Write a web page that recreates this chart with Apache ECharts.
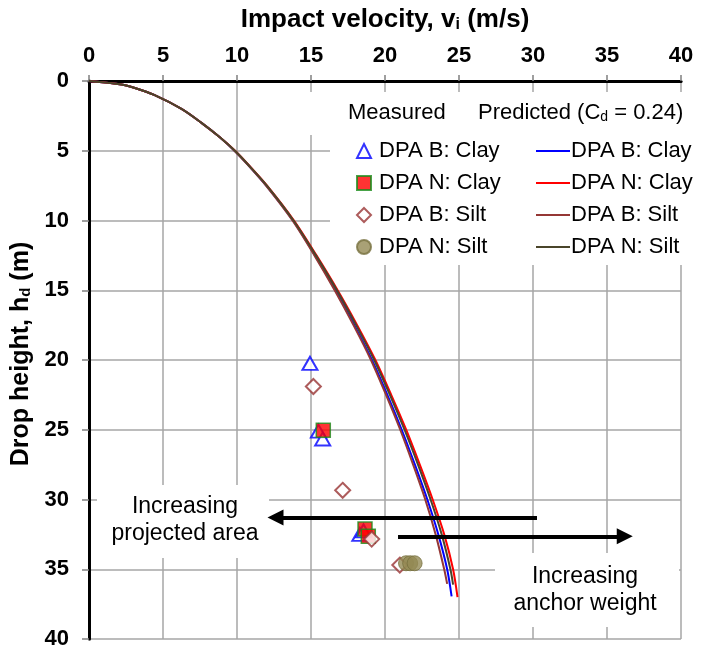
<!DOCTYPE html>
<html>
<head>
<meta charset="utf-8">
<script src="https://cdn.jsdelivr.net/npm/echarts@6/dist/echarts.min.js"></script>
<style>
html, body { margin: 0; padding: 0; background: #fff; }
#chart { width: 701px; height: 650px; }
</style>
</head>
<body>
<div id="chart"></div>
<script>
// axis ticks
const xTicks = [0, 5, 10, 15, 20, 25, 30, 35, 40]
const yTicks = [0, 5, 10, 15, 20, 25, 30, 35, 40]

// measured points: [impact velocity (m/s), drop height (m)]
const bClayPts = [[14.93, 20.24], [15.5, 25.1], [15.79, 25.66], [18.3, 32.5], [18.55, 32.25]]
const nClayPts = [[15.83, 25.04], [18.65, 32.12], [18.87, 32.64]]
const bSiltPts = [[15.16, 21.9], [17.14, 29.34], [19.1, 32.84], [21.0, 34.7]]
const nSiltPts = [[21.42, 34.57], [21.7, 34.57], [22.0, 34.57]]

// predicted curves (Cd = 0.24): drop heights and velocities
const bClayH = [0, 0.25, 0.5, 1, 2, 3, 4, 5, 6, 7.5, 10, 12.5, 15, 17.5, 20, 22.5, 25, 27.5, 30, 32.5, 35, 36.94]
const bClayV = [0, 2.2, 3.1, 4.4, 6.25, 7.6, 8.8, 9.84, 10.74, 11.98, 13.78, 15.27, 16.65, 17.93, 19.12, 20.16, 21.13, 22.02, 22.86, 23.6, 24.2, 24.5]
const nClayH = [0, 0.25, 0.5, 1, 2, 3, 4, 5, 6, 7.5, 10, 12.5, 15, 17.5, 20, 22.5, 25, 27.5, 30, 32.5, 35, 37.0]
const nClayV = [0, 2.2, 3.1, 4.4, 6.25, 7.6, 8.8, 9.87, 10.77, 12.03, 13.85, 15.37, 16.8, 18.12, 19.35, 20.42, 21.43, 22.35, 23.22, 24.0, 24.6, 24.9]
const bSiltH = [0, 0.25, 0.5, 1, 2, 3, 4, 5, 6, 7.5, 10, 12.5, 15, 17.5, 20, 22.5, 25, 27.5, 30, 32.5, 35, 36.05]
const bSiltV = [0, 2.2, 3.1, 4.4, 6.25, 7.6, 8.8, 9.82, 10.72, 11.96, 13.75, 15.23, 16.6, 17.87, 19.05, 20.07, 21.03, 21.9, 22.72, 23.42, 24.0, 24.2]
const nSiltH = [0, 0.25, 0.5, 1, 2, 3, 4, 5, 6, 7.5, 10, 12.5, 15, 17.5, 20, 22.5, 25, 27.5, 30, 32.5, 35, 36.1]
const nSiltV = [0, 2.2, 3.1, 4.4, 6.25, 7.6, 8.8, 9.86, 10.76, 12.02, 13.82, 15.33, 16.75, 18.05, 19.27, 20.33, 21.32, 22.23, 23.08, 23.83, 24.42, 24.6]

// annotation arrows [from, to] in data units
const areaArrow = [[30.27, 31.29], [12.6, 31.29]]
const weightArrow = [[20.88, 32.64], [36.2, 32.64]]

const FONT = '"Liberation Sans", Arial, sans-serif'

const zip = (v, h) => v.map((x, i) => [x, h[i]])

const chart = echarts.init(document.getElementById('chart'))

const lineSeries = (name, v, h, color) => ({
  name: name + ' (pred)',
  type: 'line',
  data: zip(v, h),
  smooth: 0.3,
  showSymbol: false,
  symbol: 'none',
  lineStyle: { color: color, width: 2 },
  itemStyle: { color: color },
  z: 3
})

const subStyle = { fontFamily: FONT, fontSize: 16, fontWeight: 'bold', color: '#000', verticalAlign: 'bottom', padding: [10, 0, 0, 0] }

const option = {
  animation: false,
  textStyle: { fontFamily: FONT },
  grid: { left: 89, right: 20, top: 81, bottom: 9 },
  xAxis: [
    {
      type: 'value', position: 'top', min: 0, max: 40, interval: 5,
      name: 'Impact velocity, v{sub|i} (m/s)',
      nameLocation: 'middle', nameGap: 48,
      nameTextStyle: { fontFamily: FONT, fontSize: 26, fontWeight: 'bold', color: '#000', rich: { sub: subStyle } },
      axisLine: { lineStyle: { color: '#808080', width: 3 } },
      axisTick: { length: 6, lineStyle: { color: '#808080', width: 1.5 } },
      axisLabel: { fontFamily: FONT, fontSize: 22, fontWeight: 'bold', color: '#000', margin: 14,
        formatter: v => xTicks.includes(v) ? String(v) : '' },
      splitLine: { lineStyle: { color: '#a6a6a6', width: 1.5 } }
    },
    {
      type: 'value', position: 'bottom', min: 0, max: 40,
      axisLine: { show: true, lineStyle: { color: '#000', width: 3 } },
      axisTick: { show: false }, axisLabel: { show: false }, splitLine: { show: false }
    }
  ],
  yAxis: [
    {
      type: 'value', inverse: true, min: 0, max: 40, interval: 5,
      name: 'Drop height, h{sub|d} (m)',
      nameLocation: 'middle', nameGap: 52,
      nameTextStyle: { fontFamily: FONT, fontSize: 25, fontWeight: 'bold', color: '#000', padding: [0, 0, 0, 12],
        rich: { sub: { ...subStyle, fontSize: 15 } } },
      axisLine: { lineStyle: { color: '#808080', width: 3 } },
      axisTick: { length: 7, lineStyle: { color: '#808080', width: 1.5 } },
      axisLabel: { fontFamily: FONT, fontSize: 22, fontWeight: 'bold', color: '#000', margin: 20,
        formatter: v => yTicks.includes(v) ? String(v) : '' },
      splitLine: { lineStyle: { color: '#a6a6a6', width: 1.5 } }
    },
    {
      type: 'value', position: 'right', inverse: true, min: 0, max: 40, interval: 5,
      axisLine: { show: true, lineStyle: { color: '#000', width: 3 } },
      axisTick: { show: true, inside: true, length: 5, lineStyle: { color: '#808080', width: 1.5 } },
      axisLabel: { show: false }, splitLine: { show: false }
    }
  ],
  legend: [
    {
      left: 351, top: 135, orient: 'vertical', itemGap: 10,
      itemWidth: 14, itemHeight: 14,
      textStyle: { fontFamily: FONT, fontSize: 22, color: '#000', padding: [0, 0, 0, 3] },
      data: ['DPA B: Clay', 'DPA N: Clay', 'DPA B: Silt', 'DPA N: Silt']
    },
    {
      left: 531, top: 135, orient: 'vertical', itemGap: 10,
      itemWidth: 34, itemHeight: 2, icon: 'rect',
      textStyle: { fontFamily: FONT, fontSize: 22, color: '#000', padding: [0, 0, 0, -4] },
      formatter: n => n.replace(' (pred)', ''),
      data: ['DPA B: Clay (pred)', 'DPA N: Clay (pred)', 'DPA B: Silt (pred)', 'DPA N: Silt (pred)']
    }
  ],
  graphic: [
    // white text boxes covering the grid
    { type: 'rect', z: 1, shape: { x: 305, y: 92, width: 396, height: 43 }, style: { fill: '#fff' } },
    { type: 'rect', z: 1, shape: { x: 330, y: 135, width: 371, height: 130 }, style: { fill: '#fff' } },
    { type: 'rect', z: 1, shape: { x: 97, y: 485, width: 172, height: 73 }, style: { fill: '#fff' } },
    { type: 'rect', z: 1, shape: { x: 495, y: 553, width: 184, height: 74 }, style: { fill: '#fff' } },
    { type: 'text', z: 5, style: { x: 348, y: 113, text: 'Measured', fontFamily: FONT, fontSize: 22, fill: '#000', verticalAlign: 'middle' } },
    { type: 'text', z: 5, style: { x: 478, y: 113, text: 'Predicted (C{sub|d} = 0.24)', fontFamily: FONT, fontSize: 22, fill: '#000', verticalAlign: 'middle',
      rich: { sub: { fontFamily: FONT, fontSize: 14, fill: '#000', verticalAlign: 'bottom', padding: [9, 0, 0, 0] } } } },
    { type: 'text', z: 5, style: { x: 185, y: 520, text: 'Increasing\nprojected area', fontFamily: FONT, fontSize: 23, lineHeight: 27, fill: '#000', align: 'center', verticalAlign: 'middle' } },
    { type: 'text', z: 5, style: { x: 585, y: 590, text: 'Increasing\nanchor weight', fontFamily: FONT, fontSize: 23, lineHeight: 27, fill: '#000', align: 'center', verticalAlign: 'middle' } }
  ],
  series: [
    {
      name: 'DPA B: Clay', type: 'scatter', data: bClayPts, symbol: 'triangle', symbolSize: [15, 13],
      itemStyle: { color: '#fff', borderColor: '#0000ff', borderWidth: 2 }, z: 4
    },
    {
      name: 'DPA N: Clay', type: 'scatter', data: nClayPts, symbol: 'rect', symbolSize: 14,
      itemStyle: { color: '#ff0000', borderColor: '#1a8c1a', borderWidth: 1.5 }, z: 4
    },
    {
      name: 'DPA B: Silt', type: 'scatter', data: bSiltPts, symbol: 'diamond', symbolSize: 15,
      itemStyle: { color: '#fff', borderColor: '#993333', borderWidth: 2 }, z: 4
    },
    {
      name: 'DPA N: Silt', type: 'scatter', data: nSiltPts, symbol: 'circle', symbolSize: 15,
      itemStyle: { color: '#948a54', borderColor: '#77703f', borderWidth: 1 }, z: 4
    },
    lineSeries('DPA B: Clay', bClayV, bClayH, '#0000ff'),
    lineSeries('DPA N: Clay', nClayV, nClayH, '#ff0000'),
    lineSeries('DPA B: Silt', bSiltV, bSiltH, '#953735'),
    lineSeries('DPA N: Silt', nSiltV, nSiltH, '#4a452a'),
    {
      name: 'arrows', type: 'line', data: [], z: 6,
      markLine: {
        silent: true,
        symbol: ['none', 'triangle'],
        symbolSize: [16, 16],
        label: { show: false },
        lineStyle: { color: '#000', width: 4, type: 'solid' },
        data: [
          [{ coord: areaArrow[0] }, { coord: areaArrow[1] }],
          [{ coord: weightArrow[0] }, { coord: weightArrow[1] }]
        ]
      }
    }
  ]
}

chart.setOption(option)
</script>
</body>
</html>
